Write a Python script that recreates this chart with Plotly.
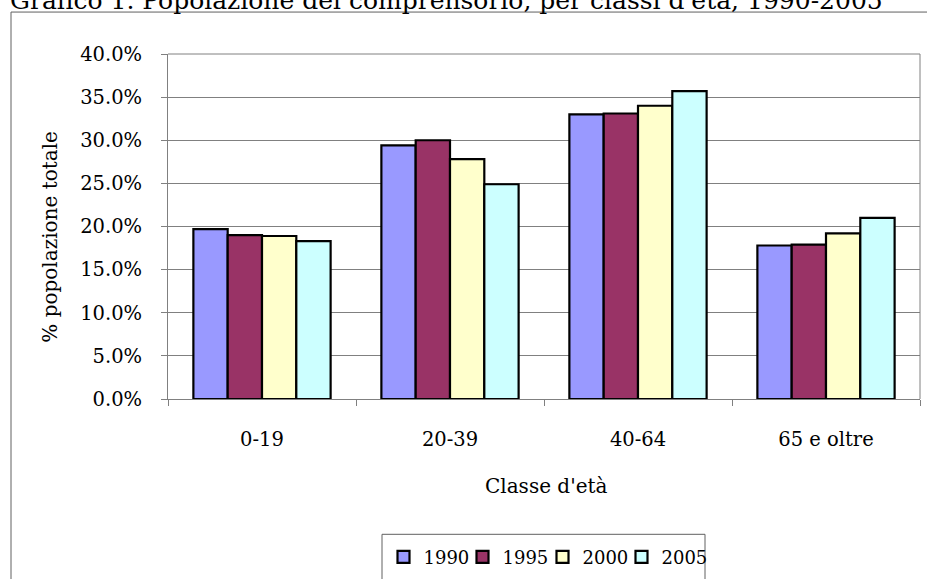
import plotly.graph_objects as go

# Age classes and share of total population per year
classi = ["0-19", "20-39", "40-64", "65 e oltre"]
anni = ["1990", "1995", "2000", "2005"]
quota_1990 = [0.197, 0.294, 0.330, 0.178]
quota_1995 = [0.190, 0.300, 0.331, 0.179]
quota_2000 = [0.189, 0.278, 0.340, 0.192]
quota_2005 = [0.183, 0.249, 0.357, 0.210]
colori = ["#9999FF", "#993366", "#FFFFCC", "#CCFFFF"]

FONT = "DejaVu Serif"
W, H = 927, 579
L, R, T, B = 168, 7, 54, 179.5
PW, PH = W - L - R, H - T - B


def px_x(p):
    return (p - L) / PW


def px_y(p):
    return (H - B - p) / PH


# one single-entry legend per series so the entries can sit in a tight row
legend_ids = ["legend", "legend2", "legend3", "legend4"]
legend_cx = [406.5, 485.5, 565.5, 644.5]

fig = go.Figure()
for anno, valori, col, lid in zip(anni, [quota_1990, quota_1995, quota_2000, quota_2005],
                                  colori, legend_ids):
    fig.add_trace(go.Bar(
        x=classi, y=valori, name=anno, legend=lid,
        marker=dict(color=col, line=dict(color="#000000", width=2.2)),
    ))

legend_style = dict(
    orientation="h", xanchor="left", yanchor="middle",
    y=px_y(558), bgcolor="rgba(0,0,0,0)", borderwidth=0,
    font=dict(family=FONT, size=18), itemwidth=30,
)
legend_layout = {
    lid: dict(legend_style, x=px_x(cx - 23))
    for lid, cx in zip(legend_ids, legend_cx)
}

fig.update_layout(
    width=W, height=H,
    margin=dict(l=L, r=R, t=T, b=B, pad=0, autoexpand=False),
    paper_bgcolor="white", plot_bgcolor="white",
    font=dict(family=FONT, size=19.5, color="#000000"),
    barmode="group", bargap=0.27, bargroupgap=0,
    showlegend=True,
    xaxis=dict(
        showline=True, linecolor="#808080", linewidth=1,
        ticks="outside", tickson="boundaries", ticklen=6, tickcolor="#808080",
        ticklabelstandoff=23, showgrid=False,
        tickfont=dict(size=19.5), automargin=False,
    ),
    yaxis=dict(
        range=[0, 0.40], dtick=0.05, tickformat=".1%",
        showline=True, linecolor="#808080", linewidth=1,
        ticks="outside", ticklen=6, tickcolor="#808080",
        ticklabelstandoff=15,
        tickfont=dict(size=19.5), automargin=False,
        showgrid=True, gridcolor="#808080", gridwidth=1,
        zeroline=False,
    ),
    **legend_layout,
)

# axis titles
fig.add_annotation(
    text="Classe d'età", xref="paper", yref="paper",
    x=px_x(546), y=px_y(487), xanchor="center", yanchor="middle",
    showarrow=False, font=dict(family=FONT, size=20),
)
fig.add_annotation(
    text="% popolazione totale", xref="paper", yref="paper",
    x=px_x(50), y=px_y(237), xanchor="center", yanchor="middle",
    textangle=-90, showarrow=False, font=dict(family=FONT, size=20),
)

# plot-area frame (top and right edges)
fig.add_shape(type="line", xref="paper", yref="paper", x0=0, x1=1, y0=1, y1=1,
              line=dict(color="#808080", width=1))
fig.add_shape(type="line", xref="paper", yref="paper", x0=1, x1=1, y0=0, y1=1,
              line=dict(color="#808080", width=1))

# outer chart border
fig.add_shape(type="rect", xref="paper", yref="paper",
              x0=px_x(11), x1=px_x(940), y0=px_y(12), y1=px_y(600),
              line=dict(color="#606060", width=1), layer="below")

# legend box
fig.add_shape(type="rect", xref="paper", yref="paper",
              x0=px_x(382), x1=px_x(705), y0=px_y(535), y1=px_y(600),
              line=dict(color="#606060", width=1), fillcolor="rgba(0,0,0,0)")

# document caption above the chart
fig.add_annotation(
    text="Grafico 1. Popolazione del comprensorio, per classi d'età, 1990-2005",
    xref="paper", yref="paper", x=px_x(8), y=px_y(17),
    xanchor="left", yanchor="bottom", showarrow=False,
    font=dict(family=FONT, size=25, color="#000000"),
)

fig.write_html("out.html")
